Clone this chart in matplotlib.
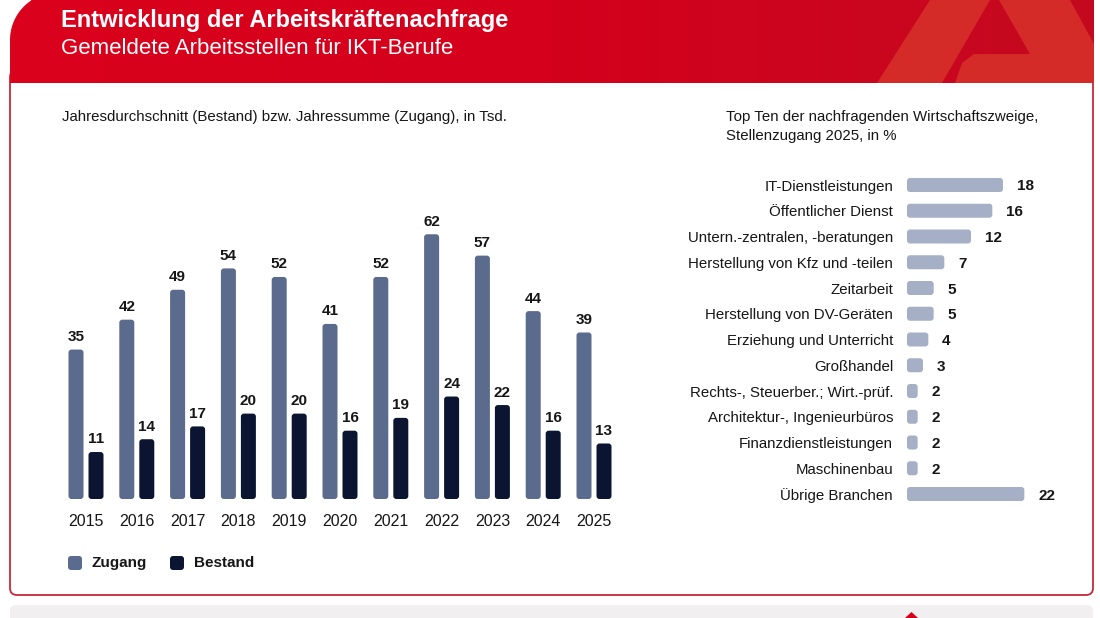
import numpy as np
import matplotlib
matplotlib.use("Agg")
import matplotlib.pyplot as plt
from matplotlib.patches import Polygon, FancyBboxPatch
from matplotlib.colors import LinearSegmentedColormap

plt.rcParams['font.family'] = ['Liberation Sans', 'DejaVu Sans']

# data
years = ['2015', '2016', '2017', '2018', '2019', '2020', '2021', '2022', '2023', '2024', '2025']
zugang = [35, 42, 49, 54, 52, 41, 52, 62, 57, 44, 39]
bestand = [11, 14, 17, 20, 20, 16, 19, 24, 22, 16, 13]

branchen = ['IT-Dienstleistungen', 'Öffentlicher Dienst', 'Untern.-zentralen, -beratungen',
            'Herstellung von Kfz und -teilen', 'Zeitarbeit', 'Herstellung von DV-Geräten',
            'Erziehung und Unterricht', 'Großhandel', 'Rechts-, Steuerber.; Wirt.-prüf.',
            'Architektur-, Ingenieurbüros', 'Finanzdienstleistungen', 'Maschinenbau',
            'Übrige Branchen']
anteile = [18, 16, 12, 7, 5, 5, 4, 3, 2, 2, 2, 2, 22]

c_zug = '#5B6B8D'
c_bes = '#0B1531'
c_bra = '#A5AFC5'
red = '#D7001C'
txt = '#161616'

W, H = 1100, 618
fig = plt.figure(figsize=(11, 6.18), dpi=100)
fig.patch.set_facecolor('white')


def round_bars(ax, bars, rad_px, xpx, ypx):
    # swap plain bars for rounded boxes, xpx/ypx = pixels per data unit
    for b in bars:
        b.set_visible(False)
        p = FancyBboxPatch((b.get_x(), b.get_y()), b.get_width(), b.get_height(),
                           boxstyle='round,pad=0,rounding_size=%f' % (rad_px / xpx),
                           mutation_aspect=xpx / ypx,
                           facecolor=b.get_facecolor(), edgecolor='none')
        ax.add_patch(p)


# background overlay in pixel coordinates
bg = fig.add_axes([0, 0, 1, 1])
bg.set_xlim(0, W)
bg.set_ylim(H, 0)
bg.axis('off')

# card with red border
card = FancyBboxPatch((10, 70), 1083, 525, boxstyle='round,pad=0,rounding_size=7',
                      facecolor='white', edgecolor='#C8283C', linewidth=1.3)
bg.add_patch(card)

# bottom strip
strip = FancyBboxPatch((10, 605), 1083, 30, boxstyle='round,pad=0,rounding_size=6',
                       facecolor='#F1EFEF', edgecolor='none')
bg.add_patch(strip)
bg.add_patch(Polygon([(905, 618), (911.5, 612), (918, 618)], closed=True,
                     facecolor=red, edgecolor='none'))

# header with rounded top-left corner and gradient
cx, cy, r = 57.5, 40, 47.5
ang = np.linspace(np.pi, 1.5 * np.pi, 60)
arc = [(cx + r * np.cos(a), cy + r * np.sin(a)) for a in ang]
arc = [(x, y) for x, y in arc if y >= 0]
head_pts = [(10, 83)] + arc + [(arc[-1][0], 0), (1094, 0), (1094, 83)]
head = Polygon(head_pts, closed=True, facecolor='none', edgecolor='none')
bg.add_patch(head)
grad = LinearSegmentedColormap.from_list('g', ['#DA021D', '#D4001C', '#C40A20'])
img = bg.imshow(np.linspace(0, 1, 256).reshape(1, -1), cmap=grad, aspect='auto',
                extent=(10, 1094, 83, 0), zorder=2)
img.set_clip_path(head)

# logo shapes
light = '#D42A28'
bg.add_patch(Polygon([(877, 83), (942, 83), (990, 0), (930, 0)], closed=True,
                     facecolor=light, edgecolor='none', zorder=3))
bg.add_patch(Polygon([(999, 0), (1070, 0), (1094, 44), (1094, 83), (955, 83),
                      (962, 63), (974, 54), (1030, 54)], closed=True,
                     facecolor=light, edgecolor='none', zorder=3))

bg.text(61, 20, 'Entwicklung der Arbeitskräftenachfrage', color='white', fontsize=17,
        fontweight='bold', va='center', ha='left', zorder=4)
bg.text(61, 48, 'Gemeldete Arbeitsstellen für IKT-Berufe', color='white', fontsize=16,
        va='center', ha='left', zorder=4)

bg.text(62, 117, 'Jahresdurchschnitt (Bestand) bzw. Jahressumme (Zugang), in Tsd.',
        fontsize=10.8, color=txt, va='center', ha='left')
bg.text(726, 117, 'Top Ten der nachfragenden Wirtschaftszweige,', fontsize=10.8,
        color=txt, va='center', ha='left')
bg.text(726, 136, 'Stellenzugang 2025, in %', fontsize=10.8, color=txt,
        va='center', ha='left')

# legend
for x0, col, lab in [(68, c_zug, 'Zugang'), (170, c_bes, 'Bestand')]:
    bg.add_patch(FancyBboxPatch((x0, 556), 14, 14, boxstyle='round,pad=0,rounding_size=3',
                                facecolor=col, edgecolor='none'))
    bg.text(x0 + 24, 563, lab, fontsize=11, fontweight='bold', va='center', ha='left',
            color=txt)

# left bar chart
sp = 50.8
base = 499
pxu = 4.27
x_left = 86 - 0.7 * sp
ax_w = 11.4 * sp
ax_h = 70 * pxu
ax = fig.add_axes([x_left / W, (H - base) / H, ax_w / W, ax_h / H])
ax.set_facecolor('none')
x = np.arange(len(years))
off = 10 / sp
bw = 15 / sp
b1 = ax.bar(x - off, zugang, bw, color=c_zug)
b2 = ax.bar(x + off, bestand, bw, color=c_bes)
round_bars(ax, b1, 3, sp, pxu)
round_bars(ax, b2, 3, sp, pxu)
ax.set_xlim(-0.7, 10.7)
ax.set_ylim(0, 70)
for bars, vals in [(b1, zugang), (b2, bestand)]:
    for b, v in zip(bars, vals):
        ax.annotate(str(v), (b.get_x() + b.get_width() / 2, v), xytext=(0, 4),
                    textcoords='offset points', ha='center', va='bottom',
                    fontsize=11, fontweight='bold', color=txt)
ax.set_xticks(x)
ax.set_xticklabels(years, fontsize=11.5, color=txt)
ax.tick_params(axis='x', length=0, pad=11)
ax.set_yticks([])
for s in ax.spines.values():
    s.set_visible(False)

# right bar chart
pxu2 = 5.333
row = 25.75
ax2_left = 907
ax2 = fig.add_axes([ax2_left / W, (H - (494 + row / 2)) / H, 25 * pxu2 / W, 13 * row / H])
ax2.set_facecolor('none')
y = np.arange(len(branchen))
b3 = ax2.barh(y, anteile, 14 / row, color=c_bra)
round_bars(ax2, b3, 3, pxu2, row)
ax2.set_xlim(0, 25)
ax2.set_ylim(12.5, -0.5)
ax2.set_yticks(y)
ax2.set_yticklabels(branchen, fontsize=10.8, color=txt, va='center_baseline')
ax2.tick_params(axis='y', length=0, pad=10)
ax2.set_xticks([])
for yy, v in zip(y, anteile):
    ax2.annotate(str(v), (v, yy), xytext=(10, 0), textcoords='offset points',
                 ha='left', va='center_baseline', fontsize=11, fontweight='bold', color=txt)
for s in ax2.spines.values():
    s.set_visible(False)

fig.savefig('out.png', dpi=100)
